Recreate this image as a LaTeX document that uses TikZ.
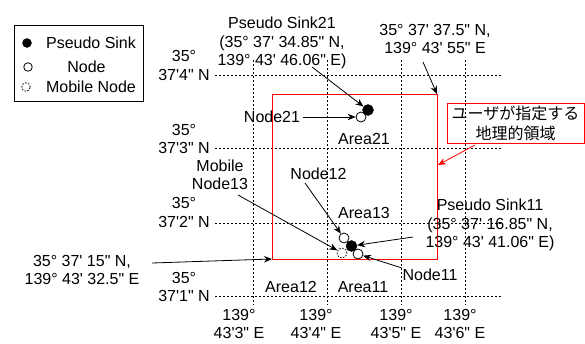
\documentclass[tikz,border=0pt]{standalone}
\usepackage{fontspec}
\setmainfont{Liberation Sans}[Ligatures=TeXOff]
\newfontfamily\cjk{Noto Sans CJK JP}
\usetikzlibrary{arrows.meta}
\begin{document}
\begin{tikzpicture}[x=1pt,y=-1pt,
  txt/.style={inner sep=0pt, align=center, font=\fontsize{16}{18.5}\selectfont},
  gridline/.style={black, line width=0.7pt, dash pattern=on 2pt off 2pt},
  arr/.style={black, line width=0.8pt, -{Stealth[length=8pt,width=6.5pt]}},
  redarr/.style={red, line width=0.8pt, -{Stealth[length=8pt,width=6.5pt]}},
  sinknode/.style={circle, fill=black, draw=black, minimum size=11pt, inner sep=0pt},
  opennode/.style={circle, fill=white, draw=black, line width=0.8pt, minimum size=10pt, inner sep=0pt},
  mobnode/.style={circle, draw=black, line width=0.8pt, dash pattern=on 1.5pt off 1.5pt, minimum size=10pt, inner sep=0pt},
  lsink/.style={circle, fill=black, draw=black, minimum size=9pt, inner sep=0pt},
  lopen/.style={circle, draw=black, line width=0.8pt, minimum size=8.5pt, inner sep=0pt},
  lmob/.style={circle, draw=black, line width=0.8pt, dash pattern=on 1.5pt off 1.5pt, minimum size=8.5pt, inner sep=0pt}
]
\useasboundingbox (0,0) rectangle (585,343);

% grid
\foreach \y in {75,148,223,296} \draw[gridline] (215,\y) -- (502,\y);
\foreach \x in {253,327,401,465} \draw[gridline] (\x,60) -- (\x,305);

% latitude labels
\node[txt] (lat4) at (184,65.5) {35°\\37'4" N};
\node[txt] (lat3) at (184,139) {35°\\37'3" N};
\node[txt] (lat2) at (184,212.5) {35°\\37'2" N};
\node[txt] (lat1) at (184,287) {35°\\37'1" N};

% longitude labels
\node[txt] (lon3) at (239,324) {139°\\43'3" E};
\node[txt] (lon4) at (316,324) {139°\\43'4" E};
\node[txt] (lon5) at (396,324) {139°\\43'5" E};
\node[txt] (lon6) at (460,324) {139°\\43'6" E};

% red region
\coordinate (rtl) at (272,94);
\coordinate (rtr) at (437,94);
\coordinate (rbl) at (272,259);
\coordinate (rbr) at (437,259);
\draw[red, line width=0.9pt] (rtl) -- (rtr) -- (rbr) -- (rbl) -- cycle;

% area labels
\node[txt] (a21) at (364,139) {Area21};
\node[txt] (a13) at (364,213) {Area13};
\node[txt] (a12) at (291,287) {Area12};
\node[txt] (a11) at (363,287) {Area11};

% legend
\node[draw=black, line width=0.8pt, minimum width=129pt, minimum height=76pt, inner sep=0pt] (legend) at (78.5,63) {};
\node[lsink] (lg1) at (27,43) {};
\node[lopen] (lg2) at (28,67) {};
\node[lmob] (lg3) at (26,87) {};
\node[txt] (lt1) at (91,43) {Pseudo Sink};
\node[txt] (lt2) at (86.5,67) {Node};
\node[txt] (lt3) at (91,87) {Mobile Node};

% nodes
\node[opennode] (n21) at (361,117) {};
\node[sinknode] (s21) at (368,110) {};
\node[mobnode] (m13) at (342,253) {};
\node[opennode] (n12) at (344,238) {};
\node[sinknode] (s11) at (351.5,246) {};
\node[opennode] (n11) at (358,254) {};

% labels
\node[txt] (ls21) at (282,43) {Pseudo Sink21\\(35° 37' 34.85" N,\\139° 43' 46.06" E)};
\node[txt] (ltr) at (435,39) {35° 37' 37.5" N,\\139° 43' 55" E};
\node[txt] (ln21) at (272,117) {Node21};
\node[txt] (lm13) at (220,175) {Mobile\\Node13};
\node[txt] (ln12) at (318.5,174) {Node12};
\node[txt] (ls11) at (490,225) {Pseudo Sink11\\(35° 37' 16.85" N,\\139° 43' 41.06" E)};
\node[txt] (ln11) at (430,275) {Node11};
\node[txt] (lbl) at (82,270) {35° 37' 15" N,\\139° 43' 32.5" E};
\node[draw=red, line width=0.9pt, minimum width=137pt, minimum height=40pt, inner sep=0pt, align=center,
      font=\cjk\fontsize{16}{20}\selectfont] (region) at (515.5,123) {ユーザが指定する\\地理的領域};

% connector start points
\coordinate (cs21) at (312,67);
\coordinate (ctr) at (423,62);
\coordinate (cm13) at (238,195);
\coordinate (cn12) at (305,183);
\coordinate (cs11) at (413,237);
\coordinate (cn11) at (402,268);
\coordinate (cbl) at (152,263);
\coordinate (creg) at (475,145);
\coordinate (cregend) at (438,165);

% connectors
\draw[arr] (cs21) -- (s21);
\draw[arr] (ln21.east) ++(3,0) -- (n21.west);
\draw[arr] (ctr) -- (rtr);
\draw[arr] (cm13) -- (m13);
\draw[arr] (cn12) -- (n12);
\draw[arr] (cs11) -- (s11);
\draw[arr] (cn11) -- (n11);
\draw[arr] (cbl) -- (rbl);
\draw[redarr] (creg) -- (cregend);
\end{tikzpicture}
\end{document}
